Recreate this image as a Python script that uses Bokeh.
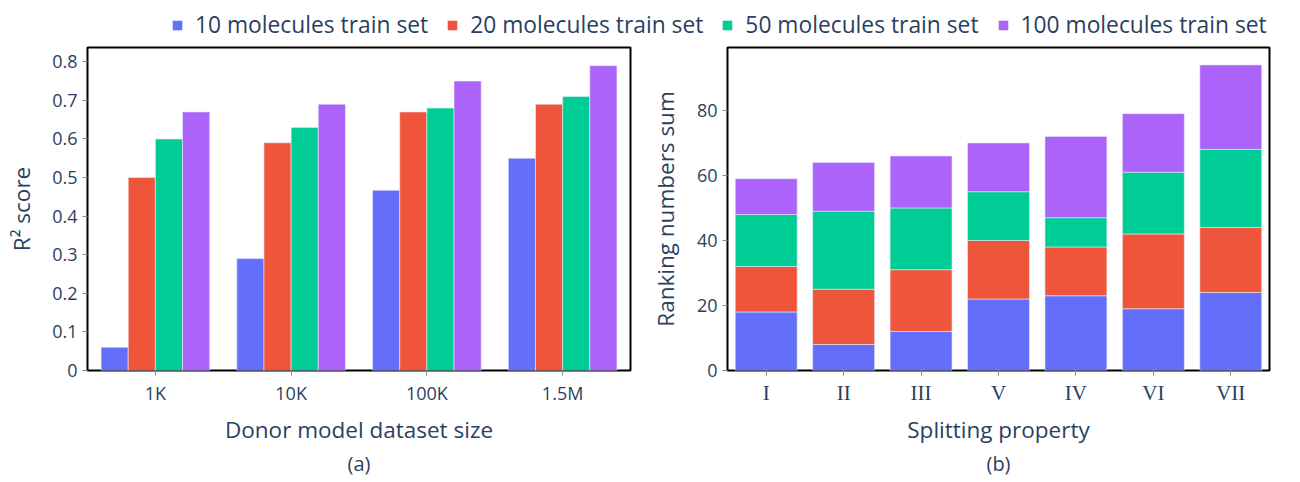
from bokeh.plotting import figure
from bokeh.models import (ColumnDataSource, Range1d, FixedTicker, Legend, LegendItem, Title)
from bokeh.transform import dodge
from bokeh.layouts import column, row
from bokeh.embed import file_html
from bokeh.resources import INLINE

# ---------------- data ----------------
series_names = ["10 molecules train set", "20 molecules train set",
                "50 molecules train set", "100 molecules train set"]
colors = ["#636efa", "#EF553B", "#00cc96", "#ab63fa"]

sizes = ["1K", "10K", "100K", "1.5M"]
r2_10 = [0.06, 0.29, 0.467, 0.55]
r2_20 = [0.50, 0.59, 0.67, 0.69]
r2_50 = [0.60, 0.63, 0.68, 0.71]
r2_100 = [0.67, 0.69, 0.75, 0.79]
r2_ticks = [0, 0.1, 0.2, 0.3, 0.4, 0.5, 0.6, 0.7, 0.8]
r2_tick_labels = ["0", "0.1", "0.2", "0.3", "0.4", "0.5", "0.6", "0.7", "0.8"]
r2_max = 0.837

props = ["I", "II", "III", "V", "IV", "VI", "VII"]
rank_10 = [18, 8, 12, 22, 23, 19, 24]
rank_20 = [14, 17, 19, 18, 15, 23, 20]
rank_50 = [16, 24, 19, 15, 9, 19, 24]
rank_100 = [11, 15, 16, 15, 25, 18, 26]
rank_ticks = [0, 20, 40, 60, 80]
rank_max = 99.35

FONT = "Open Sans"
TXT = "#2a3f5f"
EDGE = "#E5ECF6"
FRAME_H = 323


def style(p):
    p.outline_line_color = "black"
    p.outline_line_width = 2
    p.xgrid.visible = False
    p.ygrid.visible = False
    for ax in (p.xaxis[0], p.yaxis[0]):
        ax.axis_line_color = None
        ax.major_tick_line_color = "#888888"
        ax.major_tick_out = 5
        ax.major_tick_in = 0
        ax.minor_tick_line_color = None
        ax.major_label_text_font = FONT
        ax.major_label_text_font_size = "18px"
        ax.major_label_text_color = TXT
        ax.axis_label_text_font = FONT
        ax.axis_label_text_font_size = "22.5px"
        ax.axis_label_text_font_style = "normal"
        ax.axis_label_text_color = TXT
        ax.major_label_standoff = 5


def sub_title(p, text):
    p.add_layout(Title(text=text, align="center", text_font=FONT, text_font_size="20px",
                       text_font_style="normal", text_color=TXT, standoff=1), "below")


# ---------------- left: grouped bars ----------------
src_a = ColumnDataSource(dict(size=sizes, s10=r2_10, s20=r2_20, s50=r2_50, s100=r2_100))
pa = figure(x_range=sizes, y_range=Range1d(0, r2_max), frame_width=543, frame_height=FRAME_H,
            min_border_left=87, min_border_right=16, min_border_top=7, min_border_bottom=110,
            output_backend="svg", toolbar_location=None)
offsets = [-0.3, -0.1, 0.1, 0.3]
for col, off, c in zip(["s10", "s20", "s50", "s100"], offsets, colors):
    pa.vbar(x=dodge("size", off, range=pa.x_range), top=col, width=0.2, source=src_a,
            fill_color=c, line_color=EDGE, line_width=0.6)
style(pa)
pa.yaxis[0].ticker = FixedTicker(ticks=r2_ticks)
pa.yaxis[0].major_label_overrides = {t: l for t, l in zip(r2_ticks, r2_tick_labels)}
pa.xaxis[0].axis_label = "Donor model dataset size"
pa.yaxis[0].axis_label = "R² score"
pa.xaxis[0].axis_label_standoff = 6
pa.yaxis[0].axis_label_standoff = 12
sub_title(pa, "(a)")

# ---------------- right: stacked bars ----------------
src_b = ColumnDataSource(dict(prop=props, r10=rank_10, r20=rank_20, r50=rank_50, r100=rank_100))
pb = figure(x_range=props, y_range=Range1d(0, rank_max), frame_width=542, frame_height=FRAME_H,
            min_border_left=80, min_border_right=32, min_border_top=7, min_border_bottom=110,
            output_backend="svg", toolbar_location=None)
pb.vbar_stack(["r10", "r20", "r50", "r100"], x="prop", width=0.8, source=src_b,
              fill_color=colors, line_color=EDGE, line_width=0.6)
style(pb)
pb.yaxis[0].ticker = FixedTicker(ticks=rank_ticks)
pb.xaxis[0].major_label_text_font = "Liberation Serif"
pb.xaxis[0].major_label_text_font_size = "21px"
pb.xaxis[0].axis_label = "Splitting property"
pb.yaxis[0].axis_label = "Ranking numbers sum"
pb.xaxis[0].axis_label_standoff = 6
pb.yaxis[0].axis_label_standoff = 13
sub_title(pb, "(b)")

# ---------------- top legend ----------------
pl = figure(width=1300, height=40, x_range=Range1d(0, 1), y_range=Range1d(0, 1),
            min_border=0, output_backend="svg", toolbar_location=None)
pl.axis.visible = False
pl.grid.visible = False
pl.outline_line_color = None
items = []
for name, c in zip(series_names, colors):
    r = pl.vbar(x=[0.5], top=[0], bottom=[0], width=0.1, fill_color=c, line_color=None)
    items.append(LegendItem(label=name, renderers=[r]))
leg = Legend(items=items, orientation="horizontal", location=(171, 0),
             glyph_width=12, glyph_height=12, label_standoff=12, spacing=18,
             padding=0, margin=0, border_line_color=None, background_fill_alpha=0,
             label_text_font=FONT, label_text_font_size="22.8px", label_text_color=TXT)
pl.add_layout(leg, "center")

layout = column(pl, row(pa, pb))
open("out.html", "w").write(file_html(layout, INLINE))
